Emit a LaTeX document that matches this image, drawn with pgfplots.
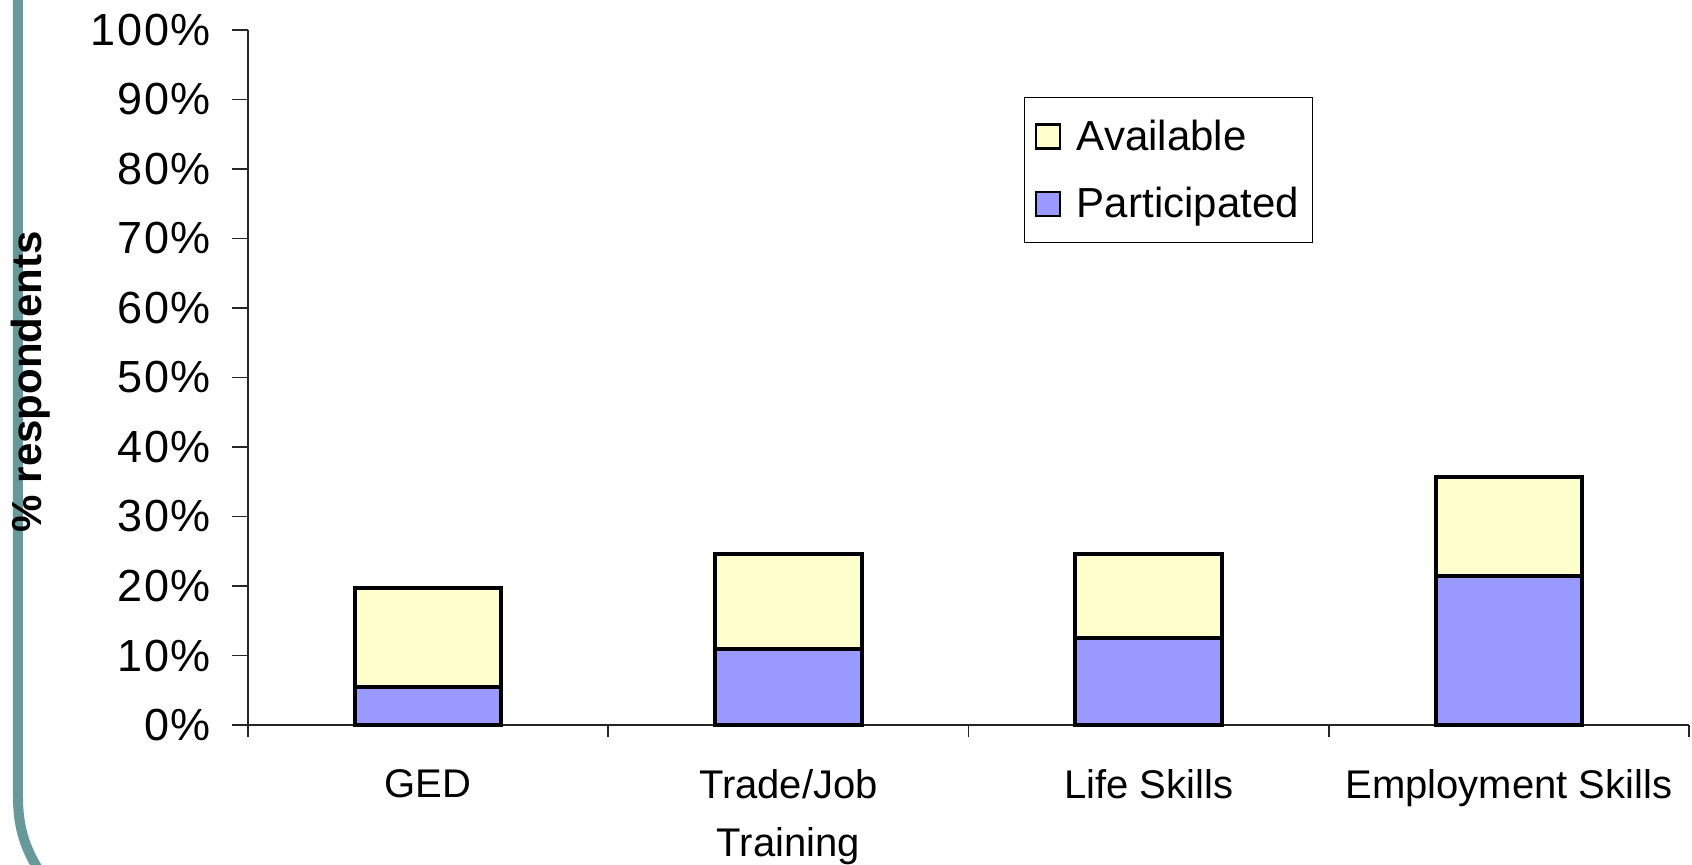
\documentclass[border=0pt]{standalone}
\usepackage{pgfplots}
\pgfplotsset{compat=1.18}
\usepackage{fontspec}
\setmainfont{Liberation Sans}
\newfontfamily\tickfont[LetterSpace=4]{Liberation Sans}
\definecolor{availcol}{HTML}{FFFFCC}
\definecolor{partcol}{HTML}{9999FF}
\definecolor{framecol}{HTML}{669999}
\begin{document}
\begin{tikzpicture}
\draw[framecol, line width=5pt] (-115pt,366pt) -- (-115pt,-36pt)
  .. controls (-115pt,-52pt) and (-111pt,-62pt) .. (-105pt,-72pt);
\begin{axis}[
  at={(0,0)}, anchor=south west,
  scale only axis, width=720.5pt, height=347.5pt,
  ybar stacked, bar width=0.406,
  xmin=-0.5, xmax=3.5, ymin=0, ymax=100,
  axis lines=left,
  axis line style={black!85, line width=0.8pt, -},
  tick align=outside,
  xtick={0,1,2,3},
  xticklabels={GED, Trade/Job\\Training, Life Skills, Employment Skills},
  major x tick style={draw=none},
  minor xtick={-0.5,0.5,1.5,2.5,3.5},
  minor tick length=6pt,
  minor x tick style={black!85, line width=0.8pt},
  major tick length=8pt,
  major y tick style={black!85, line width=0.8pt},
  ytick={0,10,...,100},
  yticklabel={\tickfont\pgfmathprintnumber[assume math mode=true]{\tick}\%},
  yticklabel style={font=\fontsize{22.5}{26}\selectfont, xshift=-7pt},
  xticklabel style={font=\fontsize{20}{29}\selectfont, align=center, yshift=-10.5pt},
  ylabel={\% respondents},
  ylabel style={font=\bfseries\fontsize{21}{24}\selectfont, at={(axis description cs:-0.151,0.494)}, anchor=center},
  legend style={at={(0.5385,0.9036)}, anchor=north west, draw=black, line width=0.6pt,
    font=\fontsize{21}{25}\selectfont, inner xsep=5pt, inner ysep=9pt,
    row sep=13pt, cells={anchor=west},
    /tikz/every odd column/.append style={column sep=6pt}},
  reverse legend,
  clip=false,
]
\addplot+[ybar, fill=partcol, draw=black, line width=2pt,
  legend image code/.code={\draw[fill=partcol, draw=black, line width=1.2pt] (0pt,-6pt) rectangle (12pt,6pt);}]
  coordinates {(0,5.4) (1,10.9) (2,12.5) (3,21.4)};
\addlegendentry{Participated}
\addplot+[ybar, fill=availcol, draw=black, line width=2pt,
  legend image code/.code={\draw[fill=availcol, draw=black, line width=1.2pt] (0pt,-6pt) rectangle (12pt,6pt);}]
  coordinates {(0,14.3) (1,13.7) (2,12.1) (3,14.3)};
\addlegendentry{Available}
\end{axis}
\pgfresetboundingbox
\path[use as bounding box] (-124pt,-69.5pt) rectangle (722pt,362.5pt);
\end{tikzpicture}
\end{document}
